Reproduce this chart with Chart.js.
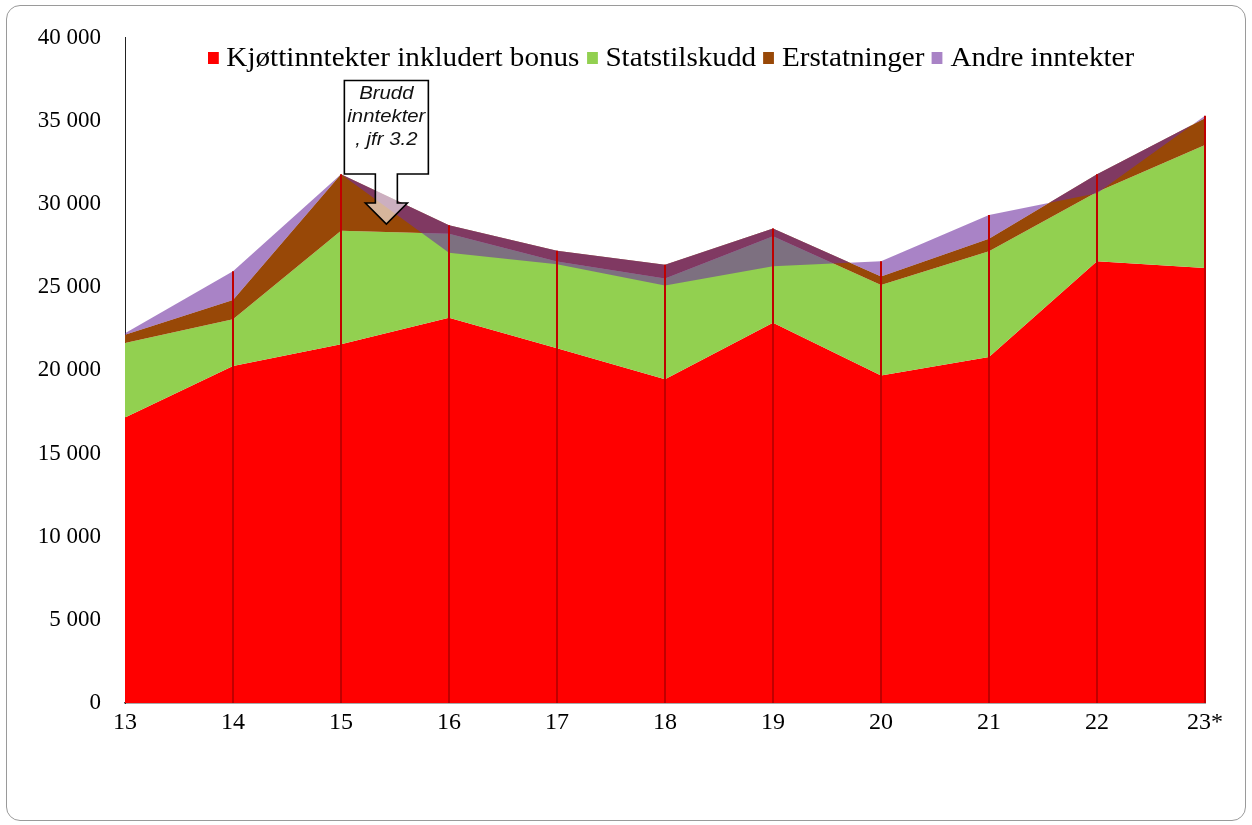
<!DOCTYPE html>
<html>
<head>
<meta charset="utf-8">
<script src="https://cdn.jsdelivr.net/npm/chart.js@4.4.1/dist/chart.umd.min.js"></script>
<style>
  html, body { margin: 0; padding: 0; background: #fff; }
  #wrap { position: relative; width: 1252px; height: 825px; overflow: hidden; }
  #frame { position: absolute; left: 6px; top: 5px; width: 1240px; height: 816px;
           border: 1.5px solid #9a9a9a; border-radius: 14px; box-sizing: border-box; }
  #c { position: absolute; left: 0; top: 0; }
  #legend { position: absolute; left: 208px; top: 42px; display: flex; align-items: center;
            font-family: "Liberation Serif", "Times New Roman", serif; font-size: 27px;
            color: #000; white-space: nowrap; transform: scaleX(1.08); transform-origin: left center; }
  .item { display: flex; align-items: center; margin-right: 7px; }
  .box { width: 10px; height: 12px; margin-right: 7px; }
</style>
</head>
<body>
<div id="wrap">
  <div id="frame"></div>
  <canvas id="c" width="1252" height="825"></canvas>
  <div id="legend"></div>
</div>
<script>
// Years (20xx), 2023 is an estimate
const years = ['13', '14', '15', '16', '17', '18', '19', '20', '21', '22', '23*'];

// Income components, NOK per unit
const kjott        = [17170, 20270, 21570, 23170, 21330, 19470, 22870, 19690, 20810, 26570, 26160];
const statstilskudd = [4480, 2800, 6830, 5040, 5220, 6050, 5200, 5440, 6350, 4160, 7400];
const erstatninger = [500, 1160, 3400, 520, 640, 830, 460, 510, 760, 1070, 1600];
const andre        = [80, 1730, 0, -1660, -800, -1250, -2260, 930, 1430, -1150, 160];

const seriesNames = ['Kjøttinntekter inkludert bonus', 'Statstilskudd', 'Erstatninger', 'Andre inntekter'];
const seriesColors = ['#ff0000', '#92d050', '#984807', 'rgba(112,48,160,0.6)'];

const yTicks = [0, 5000, 10000, 15000, 20000, 25000, 30000, 35000, 40000];

// Running totals of the stack (each layer sits on the one below it)
const lvl1 = kjott.map(v => v);
const lvl2 = lvl1.map((v, i) => v + statstilskudd[i]);
const lvl3 = lvl2.map((v, i) => v + erstatninger[i]);
const lvl4 = lvl3.map((v, i) => v + andre[i]);

// Datasets listed top layer first so the translucent layer is painted last
function layer(label, data, color, fill) {
  return {
    label, data, fill,
    backgroundColor: color,
    borderWidth: 0,
    pointRadius: 0,
    pointHoverRadius: 0,
    tension: 0
  };
}
const datasets = [
  layer(seriesNames[3], lvl4, seriesColors[3], 1),
  layer(seriesNames[2], lvl3, seriesColors[2], 2),
  layer(seriesNames[1], lvl2, seriesColors[1], 3),
  layer(seriesNames[0], lvl1, seriesColors[0], 'origin')
];

// Vertical drop lines from the axis to the highest layer at each year
const dropLines = {
  id: 'dropLines',
  afterDatasetsDraw(chart) {
    const { ctx, chartArea, scales: { x, y } } = chart;
    ctx.save();
    ctx.strokeStyle = '#c00000';
    ctx.lineWidth = 2;
    years.forEach((_, i) => {
      const px = x.getPixelForValue(i);
      if (px <= chartArea.left + 1) return;
      const top = Math.max(lvl1[i], lvl2[i], lvl3[i], lvl4[i]);
      ctx.beginPath();
      ctx.moveTo(px, y.getPixelForValue(0));
      ctx.lineTo(px, y.getPixelForValue(top));
      ctx.stroke();
    });
    ctx.restore();
  }
};

// Callout box with a down arrow marking the break in the income series
const noteLines = ['Brudd', 'inntekter', ', jfr 3.2'];
const noteAnchor = { index: 2.42, value: 28800 };
const breakNote = {
  id: 'breakNote',
  afterDatasetsDraw(chart) {
    const { ctx, scales: { x, y } } = chart;
    const tx = x.getPixelForValue(noteAnchor.index);
    const ty = y.getPixelForValue(noteAnchor.value);
    const boxL = tx - 42, boxR = tx + 42, boxT = ty - 143.5, boxB = ty - 50;
    const stemL = tx - 11, stemR = tx + 11, headY = ty - 21, headL = tx - 21, headR = tx + 21;
    ctx.save();
    ctx.beginPath();
    ctx.moveTo(boxL, boxT);
    ctx.lineTo(boxR, boxT);
    ctx.lineTo(boxR, boxB);
    ctx.lineTo(stemR, boxB);
    ctx.lineTo(stemR, headY);
    ctx.lineTo(headR, headY);
    ctx.lineTo(tx, ty);
    ctx.lineTo(headL, headY);
    ctx.lineTo(stemL, headY);
    ctx.lineTo(stemL, boxB);
    ctx.lineTo(boxL, boxB);
    ctx.closePath();
    ctx.fillStyle = 'rgba(255,255,255,0.6)';
    ctx.fill();
    ctx.strokeStyle = '#000';
    ctx.lineWidth = 1.6;
    ctx.lineJoin = 'miter';
    ctx.stroke();
    // text, slightly widened
    ctx.fillStyle = '#111';
    ctx.font = 'italic 18px "Liberation Sans", Arial, sans-serif';
    ctx.textAlign = 'center';
    ctx.textBaseline = 'alphabetic';
    const base = [ty - 125, ty - 102, ty - 79];
    noteLines.forEach((t, k) => {
      ctx.save();
      ctx.translate(tx, base[k]);
      ctx.scale(1.13, 1);
      ctx.fillText(t, 0, 0);
      ctx.restore();
    });
    ctx.restore();
  }
};

const tickFont = { family: '"Liberation Serif", "Times New Roman", serif', size: 23 };

new Chart(document.getElementById('c'), {
  type: 'line',
  data: { labels: years, datasets },
  options: {
    responsive: false,
    animation: false,
    events: [],
    layout: { padding: { top: 36, right: 47, left: 0, bottom: 0 } },
    plugins: {
      legend: { display: false },
      tooltip: { enabled: false },
      filler: { propagate: false }
    },
    scales: {
      x: {
        type: 'category',
        offset: false,
        grid: { display: false, drawTicks: false },
        border: { display: true, color: '#555', width: 1.5 },
        ticks: { color: '#000', font: { ...tickFont, size: 24 }, padding: 5, maxRotation: 0, autoSkip: false },
        afterFit(s) { s.height = 122; }
      },
      y: {
        min: 0,
        max: 40000,
        grid: { display: false, drawTicks: false },
        border: { display: true, color: '#222', width: 1 },
        afterBuildTicks(s) { s.ticks = yTicks.map(v => ({ value: v })); },
        ticks: {
          color: '#000',
          font: tickFont,
          padding: 24,
          callback: v => v === 0 ? '0' : (v / 1000) + ' 000'
        },
        afterFit(s) { s.width = 125; }
      }
    }
  },
  plugins: [dropLines, breakNote]
});

// Legend in series order
const legendEl = document.getElementById('legend');
seriesNames.forEach((name, i) => {
  const item = document.createElement('div');
  item.className = 'item';
  const box = document.createElement('span');
  box.className = 'box';
  box.style.background = seriesColors[i];
  const txt = document.createElement('span');
  txt.textContent = name;
  item.appendChild(box);
  item.appendChild(txt);
  legendEl.appendChild(item);
});
</script>
</body>
</html>
